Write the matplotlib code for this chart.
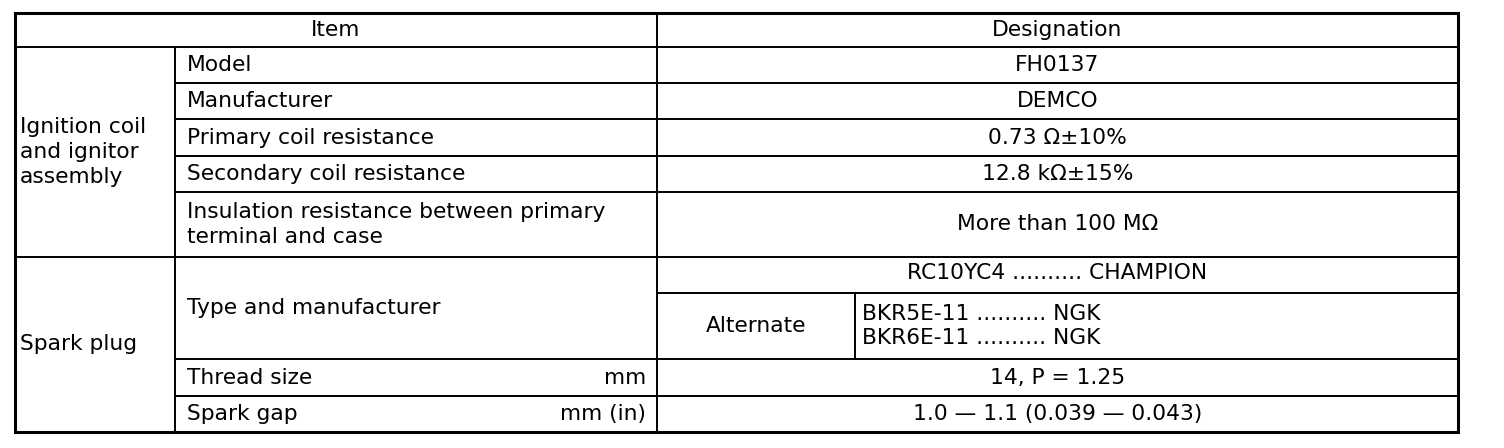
import matplotlib
matplotlib.use("Agg")
import matplotlib.pyplot as plt

# table contents
header = ["Item", "Designation"]
groups = ["Ignition coil\nand ignitor\nassembly", "Spark plug"]
items = ["Model", "Manufacturer", "Primary coil resistance",
         "Secondary coil resistance",
         "Insulation resistance between primary\nterminal and case",
         "Type and manufacturer", "Thread size", "Spark gap"]
units = ["", "", "", "", "", "", "mm", "mm (in)"]
values = ["FH0137", "DEMCO", "0.73 \u03a9\u00b110%", "12.8 k\u03a9\u00b115%",
          "More than 100 M\u03a9", None, "14, P = 1.25",
          "1.0 \u2014 1.1 (0.039 \u2014 0.043)"]
plug_main = "RC10YC4 .......... CHAMPION"
plug_alt_label = "Alternate"
plug_alt = ["BKR5E-11 .......... NGK", "BKR6E-11 .......... NGK"]

# layout (pixels)
W, H = 1504, 448
x0, x1, x2, x3, xa = 15, 175, 657, 1458, 855
rows = [13, 47, 83, 119, 156, 192, 257, 293, 359, 396, 432]  # horizontal rules
group_rows = [(1, 6), (6, 10)]
item_rows = [(1, 2), (2, 3), (3, 4), (4, 5), (5, 6), (6, 8), (8, 9), (9, 10)]

fig = plt.figure(figsize=(W / 100, H / 100), dpi=100)
ax = fig.add_axes([0, 0, 1, 1])
ax.set_xlim(0, W)
ax.set_ylim(H, 0)
ax.axis("off")

fs = 15.7
font = dict(fontsize=fs, family=["DejaVu Sans"], color="black")
lw = 1.4
ls = 1.3

# outer frame
ax.plot([x0, x3, x3, x0, x0], [rows[0], rows[0], rows[-1], rows[-1], rows[0]],
        color="black", lw=2.2, solid_joinstyle="miter")
# header line
ax.plot([x0, x3], [rows[1], rows[1]], color="black", lw=lw)
# group separator
ax.plot([x0, x3], [rows[6], rows[6]], color="black", lw=lw)
# item lines
for r in [2, 3, 4, 5, 8, 9]:
    ax.plot([x1, x3], [rows[r], rows[r]], color="black", lw=lw)
ax.plot([x2, x3], [rows[7], rows[7]], color="black", lw=lw)
# vertical lines
ax.plot([x1, x1], [rows[1], rows[-1]], color="black", lw=lw)
ax.plot([x2, x2], [rows[0], rows[-1]], color="black", lw=lw)
ax.plot([xa, xa], [rows[7], rows[8]], color="black", lw=lw)

# header text
ax.text((x0 + x2) / 2, (rows[0] + rows[1]) / 2, header[0], ha="center", va="center", **font)
ax.text((x2 + x3) / 2, (rows[0] + rows[1]) / 2, header[1], ha="center", va="center", **font)

# group labels
for g, (a, b) in zip(groups, group_rows):
    ax.text(x0 + 5, (rows[a] + rows[b]) / 2, g, ha="left", va="center",
            linespacing=ls, **font)

# item labels, units and values
for it, un, val, (a, b) in zip(items, units, values, item_rows):
    yc = (rows[a] + rows[b]) / 2
    ax.text(x1 + 12, yc, it, ha="left", va="center", linespacing=ls, **font)
    if un:
        ax.text(x2 - 11, yc, un, ha="right", va="center", **font)
    if val:
        ax.text((x2 + x3) / 2, yc, val, ha="center", va="center", **font)

# spark plug type cells
ax.text((x2 + x3) / 2, (rows[6] + rows[7]) / 2 - 2, plug_main, ha="center", va="center", **font)
ax.text((x2 + xa) / 2, (rows[7] + rows[8]) / 2, plug_alt_label, ha="center", va="center", **font)
ax.text(xa + 7, (rows[7] + rows[8]) / 2, "\n".join(plug_alt), ha="left", va="center",
        linespacing=1.2, **font)

fig.savefig("out.png", dpi=100, facecolor="white")
